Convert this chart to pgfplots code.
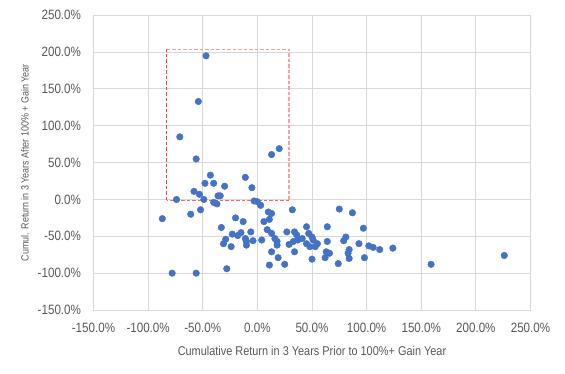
\documentclass[border=0pt]{standalone}
\usepackage{pgfplots}
\pgfplotsset{compat=1.18}
\usepackage{fontspec}
\setmainfont[FakeStretch=0.86]{Liberation Sans}
\definecolor{dotblue}{HTML}{4472C4}
\definecolor{txtgrey}{HTML}{595959}
\definecolor{gridgrey}{HTML}{D9D9D9}
\definecolor{boxred}{HTML}{FF3B3B}
\definecolor{boxpink}{HTML}{FF9E9E}
\begin{document}
\begin{tikzpicture}
\useasboundingbox (-93.5bp,-64bp) rectangle (471.5bp,310bp);
\begin{axis}[
  at={(0,0)}, anchor=south west,
  scale only axis, width=437bp, height=294.7bp,
  xmin=-150, xmax=250, ymin=-150, ymax=250,
  xtick={-150,-100,...,250}, ytick={-150,-100,...,250},
  xticklabels={-150.0\%,-100.0\%,-50.0\%,0.0\%,50.0\%,100.0\%,150.0\%,200.0\%,250.0\%},
  yticklabels={-150.0\%,-100.0\%,-50.0\%,0.0\%,50.0\%,100.0\%,150.0\%,200.0\%,250.0\%},
  grid=major,
  major grid style={gridgrey, line width=1bp},
  axis line style={gridgrey, line width=1bp},
  tick style={draw=none},
  ticklabel style={font=\fontsize{13.5bp}{15bp}\selectfont, text=txtgrey},
  xlabel={\mbox{Cumulative Return in 3 Years Prior to 100\%+ Gain Year}},
  xlabel style={font=\fontsize{12.7bp}{14bp}\selectfont, text=txtgrey, at={(axis description cs:0.5,0)}, anchor=center, yshift=-41bp},
  xticklabel style={yshift=-10bp},
  yticklabel style={xshift=-9bp},
  clip=false,
]
\addplot[boxred, dashed, line width=1.2bp, dash pattern=on 3.5bp off 2bp] coordinates {(-83,-1) (-83,204)};
\addplot[boxpink, dashed, line width=1.2bp, dash pattern=on 3.5bp off 2bp] coordinates {(-83,204) (29,204) (29,-1)};
\addplot[boxred!80, dashed, line width=1.2bp, dash pattern=on 3.5bp off 2bp] coordinates {(29,-1) (-83,-1)};
\addplot[only marks, mark=*, mark size=3.3bp, mark options={draw=dotblue, fill=dotblue}] coordinates {
(-47,195) (-54,133) (-71,85) (-56,55) (20,69) (13,61)
(-43,33) (-48,22) (-40,22) (-30,18) (-11,30) (-5,16)
(-58,11) (-53,7) (-49,0) (-36,5) (-34,5) (-40,-4) (-37,-6) (-74,0)
(-3,-2) (0,-3) (3,-8)
(-87,-26) (-61,-20) (-52,-14)
(-20,-25) (-13,-30) (-33,-38)
(-23,-47) (-18,-49) (-15,-45) (-6,-44) (-29,-54) (-31,-60) (-24,-64)
(-11,-53) (-10,-57) (-10,-62) (-4,-56)
(-28,-94) (-78,-100) (-56,-100)
(10,-17) (13,-19) (32,-14) (11,-27) (6,-30)
(9,-41) (13,-46) (4,-55) (16,-53) (18,-57) (18,-62)
(27,-44) (34,-44) (36,-48) (45,-37)
(29,-61) (33,-57) (37,-55) (41,-53)
(47,-46) (50,-51) (51,-55)
(45,-60) (48,-64) (53,-64) (55,-60)
(34,-71) (13,-71) (19,-79) (11,-89) (25,-88) (50,-81)
(64,-37) (64,-57) (63,-71) (66,-73) (62,-79)
(75,-13) (87,-18) (81,-51) (79,-56) (84,-68) (83,-73) (74,-87)
(97,-39) (93,-60) (102,-63) (106,-65) (112,-68) (124,-66) (98,-79) (84,-80)
(159,-88) (226,-76)
};
\node[rotate=90, anchor=center, font=\fontsize{10.4bp}{12bp}\selectfont, text=txtgrey] at ([xshift=-68.5bp]axis description cs:0,0.5) {Cumul. Return in 3 Years After 100\% + Gain Year};
\end{axis}
\end{tikzpicture}
\end{document}
